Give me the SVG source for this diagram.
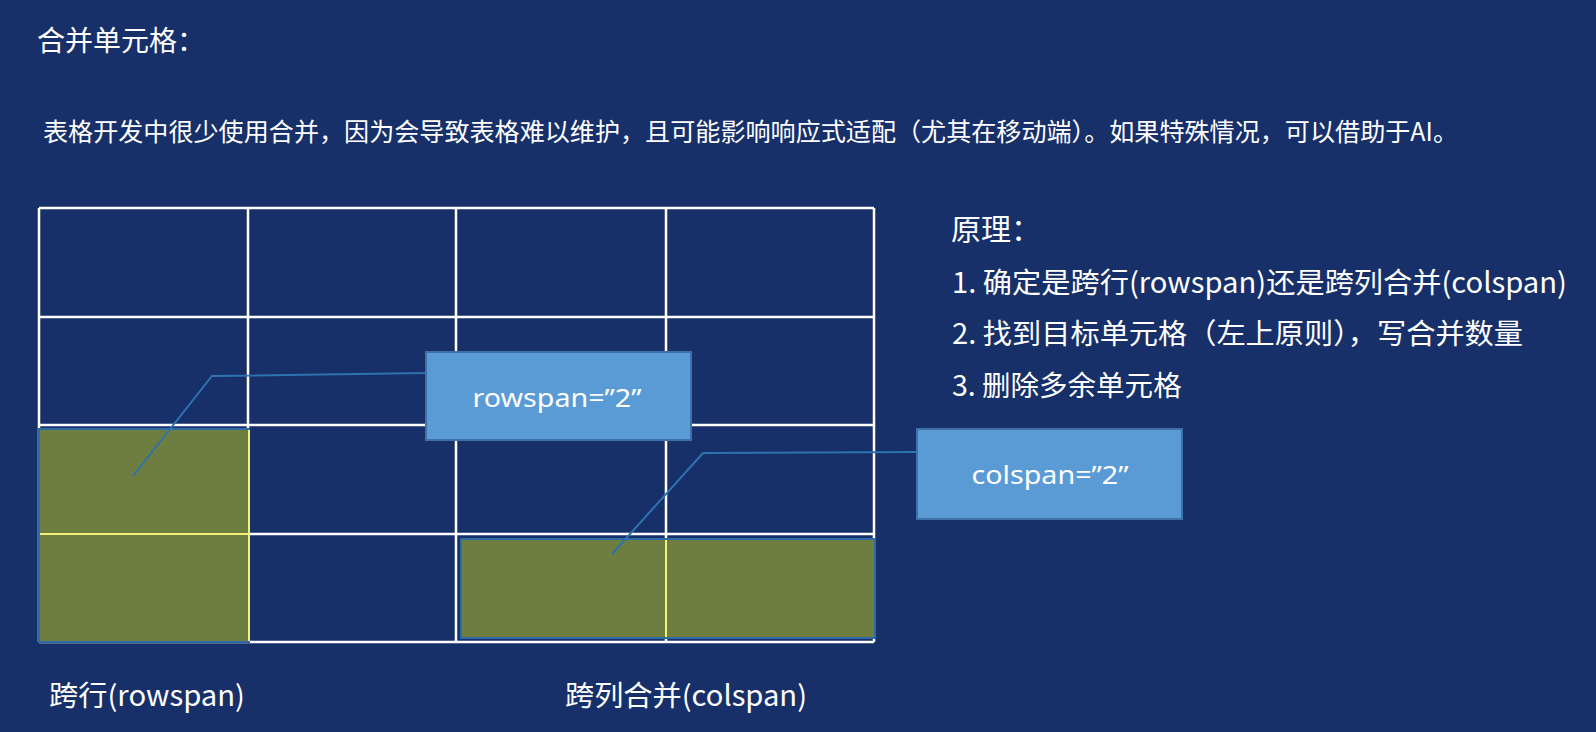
<svg xmlns="http://www.w3.org/2000/svg" width="1596" height="732" viewBox="0 0 1596 732">
  <style>
    .t { font-family: "Noto Sans CJK SC", "Noto Sans", sans-serif; fill: #ffffff; }
    .grid { stroke: #ffffff; stroke-width: 2.5; fill: none; }
    .merged { fill: #6e7d40; stroke: #2e6aa8; stroke-width: 2; }
    .yl { stroke: #f2f27a; stroke-width: 2; }
    .conn { stroke: #2f72b0; stroke-width: 2; fill: none; }
    .box { fill: #5b9bd5; stroke: #3d71a8; stroke-width: 2; }
    .bt { font-family: "Noto Sans", "Open Sans", sans-serif; fill: #ffffff; font-size: 26px; text-anchor: middle; }
  </style>
  <rect x="0" y="0" width="1596" height="732" fill="#173069"/>

  <g id="title">
    <text class="t" x="37" y="51" font-size="28">合并单元格：</text>
  </g>
  <g id="intro">
    <text class="t" x="43" y="141" font-size="25" textLength="1415" lengthAdjust="spacingAndGlyphs">表格开发中很少使用合并，因为会导致表格难以维护，且可能影响响应式适配（尤其在移动端）。如果特殊情况，可以借助于AI。</text>
  </g>

  <g id="table">
    <line class="grid" x1="39" y1="208" x2="874" y2="208"/>
    <line class="grid" x1="39" y1="317" x2="874" y2="317" stroke-width="4"/>
    <line class="grid" x1="39" y1="425" x2="874" y2="425"/>
    <line class="grid" x1="39" y1="534" x2="874" y2="534"/>
    <line class="grid" x1="39" y1="642" x2="874" y2="642"/>
    <line class="grid" x1="39" y1="208" x2="39" y2="642"/>
    <line class="grid" x1="248" y1="208" x2="248" y2="642"/>
    <line class="grid" x1="456" y1="208" x2="456" y2="642"/>
    <line class="grid" x1="666" y1="208" x2="666" y2="642"/>
    <line class="grid" x1="874" y1="208" x2="874" y2="642"/>
  </g>

  <g id="merged-rowspan">
    <rect class="merged" x="39" y="429" width="210" height="213"/>
    <line class="yl" x1="40" y1="534" x2="248" y2="534"/>
    <line class="yl" x1="249" y1="430" x2="249" y2="641"/>
  </g>
  <g id="merged-colspan">
    <rect class="merged" x="461" y="539" width="414" height="99"/>
    <line class="yl" x1="666" y1="540" x2="666" y2="637"/>
  </g>

  <g id="connectors">
    <polyline class="conn" points="426,373 212,376 133,476"/>
    <polyline class="conn" points="917,452 703,453 612,554"/>
  </g>

  <g id="rowspan-callout">
    <rect class="box" x="426" y="352" width="265" height="88"/>
    <text class="bt" x="557" y="407" textLength="169" lengthAdjust="spacingAndGlyphs">rowspan=”2”</text>
  </g>
  <g id="colspan-callout">
    <rect class="box" x="917" y="429" width="265" height="90"/>
    <text class="bt" x="1050" y="484" textLength="157" lengthAdjust="spacingAndGlyphs">colspan=”2”</text>
  </g>

  <g id="principles">
    <text class="t" x="951" y="240" font-size="30">原理：</text>
    <text class="t" x="952" y="293" font-size="28.5" textLength="615" lengthAdjust="spacingAndGlyphs">1. 确定是跨行(rowspan)还是跨列合并(colspan)</text>
    <text class="t" x="952" y="344" font-size="28.5" textLength="571" lengthAdjust="spacingAndGlyphs">2. 找到目标单元格（左上原则），写合并数量</text>
    <text class="t" x="952" y="396" font-size="28.5">3. 删除多余单元格</text>
  </g>

  <g id="labels">
    <text class="t" x="49" y="706" font-size="28.5" textLength="196" lengthAdjust="spacingAndGlyphs">跨行(rowspan)</text>
    <text class="t" x="565" y="706" font-size="28.5" textLength="242" lengthAdjust="spacingAndGlyphs">跨列合并(colspan)</text>
  </g>
</svg>
